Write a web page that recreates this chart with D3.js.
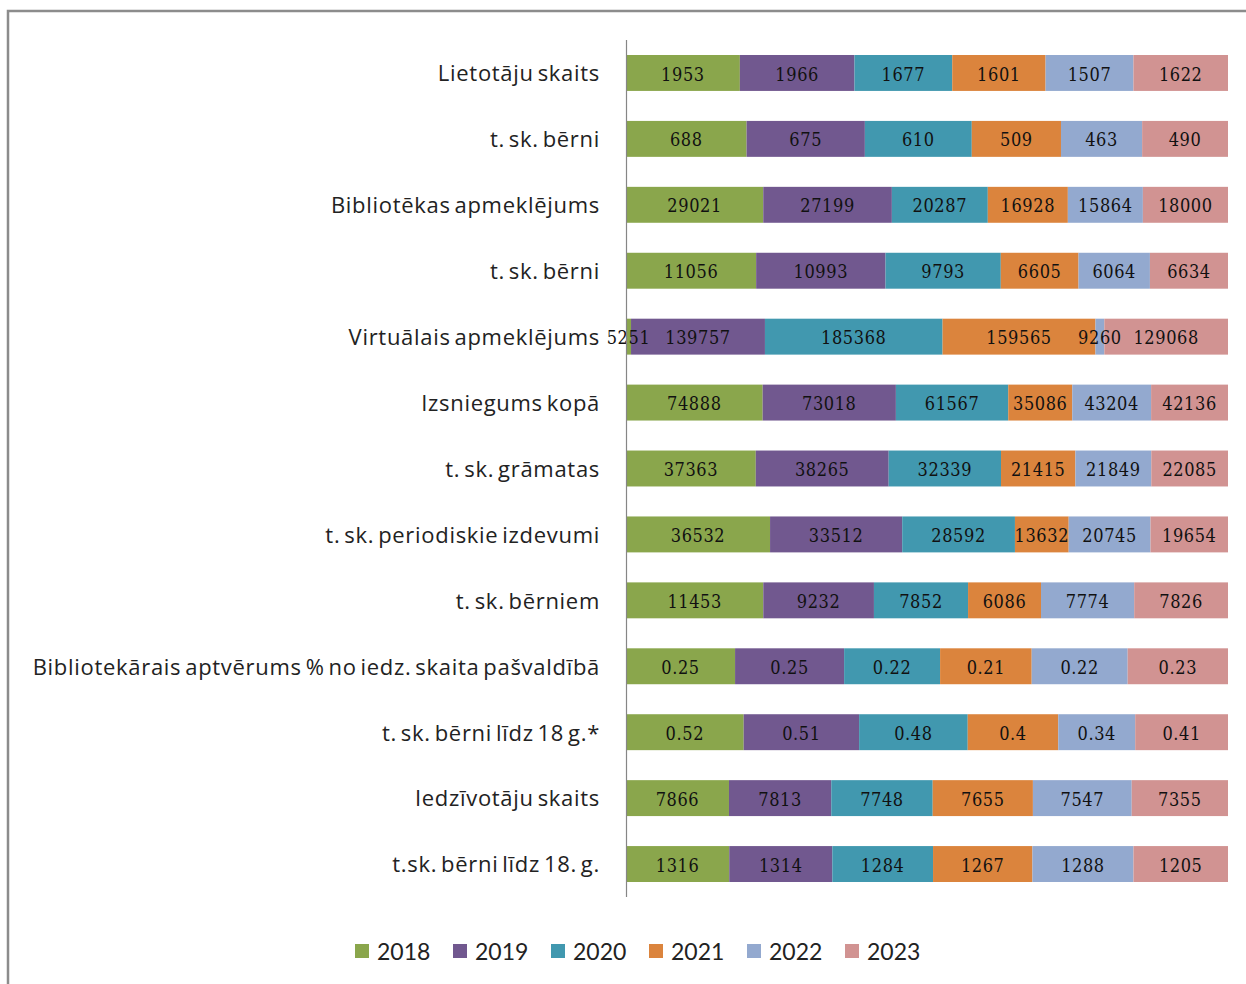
<!DOCTYPE html>
<html>
<head>
<meta charset="utf-8">
<script src="https://cdn.jsdelivr.net/npm/d3@7"></script>
<style>
  body { margin: 0; background: #fff; }
  svg { display: block; }
</style>
</head>
<body>
<svg id="chart"></svg>
<script>
// category rows, top to bottom
var categories = [
  'Lietotāju skaits',
  't. sk. bērni',
  'Bibliotēkas apmeklējums',
  't. sk. bērni',
  'Virtuālais apmeklējums',
  'Izsniegums kopā',
  't. sk. grāmatas',
  't. sk. periodiskie izdevumi',
  't. sk. bērniem',
  'Bibliotekārais aptvērums % no iedz. skaita pašvaldībā',
  't. sk. bērni līdz 18 g.*',
  'Iedzīvotāju skaits',
  't.sk. bērni līdz 18. g.'
];

var years = ['2018', '2019', '2020', '2021', '2022', '2023'];

// one array per year, same order as categories
var v2018 = [1953, 688, 29021, 11056, 5251, 74888, 37363, 36532, 11453, 0.25, 0.52, 7866, 1316];
var v2019 = [1966, 675, 27199, 10993, 139757, 73018, 38265, 33512, 9232, 0.25, 0.51, 7813, 1314];
var v2020 = [1677, 610, 20287, 9793, 185368, 61567, 32339, 28592, 7852, 0.22, 0.48, 7748, 1284];
var v2021 = [1601, 509, 16928, 6605, 159565, 35086, 21415, 13632, 6086, 0.21, 0.4, 7655, 1267];
var v2022 = [1507, 463, 15864, 6064, 9260, 43204, 21849, 20745, 7774, 0.22, 0.34, 7547, 1288];
var v2023 = [1622, 490, 18000, 6634, 129068, 42136, 22085, 19654, 7826, 0.23, 0.41, 7355, 1205];

var colors = ['#8aa64c', '#71588f', '#4198af', '#db843d', '#93a9cf', '#d19392'];

var width = 1246;
var height = 984;

var svg = d3.select('#chart')
  .attr('width', width)
  .attr('height', height);

// outer frame
svg.append('rect')
  .attr('x', 8)
  .attr('y', 11)
  .attr('width', 1260)
  .attr('height', 1000)
  .attr('fill', '#fff')
  .attr('stroke', '#8c8c8c')
  .attr('stroke-width', 2.5);

// build table rows for the stack
var series = [v2018, v2019, v2020, v2021, v2022, v2023];
var table = categories.map(function (c, i) {
  var row = { idx: i, name: c };
  years.forEach(function (y, j) { row[y] = series[j][i]; });
  return row;
});

var stacked = d3.stack()
  .keys(years)
  .offset(d3.stackOffsetExpand)(table);

var x = d3.scaleLinear()
  .domain([0, 1])
  .range([626, 1228]);

var y = d3.scaleBand()
  .domain(d3.range(categories.length))
  .range([40, 897])
  .paddingInner(0.455)
  .paddingOuter(0.2275);

var color = d3.scaleOrdinal()
  .domain(years)
  .range(colors);

var layers = svg.selectAll('g.layer')
  .data(stacked)
  .enter().append('g')
    .attr('class', 'layer')
    .attr('fill', function (d) { return color(d.key); });

layers.selectAll('rect')
  .data(function (d) { return d; })
  .enter().append('rect')
    .attr('x', function (d) { return x(d[0]); })
    .attr('y', function (d) { return y(d.data.idx); })
    .attr('width', function (d) { return x(d[1]) - x(d[0]); })
    .attr('height', y.bandwidth());

// data labels, centred in each segment
stacked.forEach(function (layer) {
  svg.append('g').selectAll('text')
    .data(layer)
    .enter().append('text')
      .attr('x', function (d) { return (x(d[0]) + x(d[1])) / 2; })
      .attr('y', function (d) { return y(d.data.idx) + y.bandwidth() / 2; })
      .attr('dy', '0.42em')
      .attr('text-anchor', 'middle')
      .attr('font-family', '"DejaVu Serif Condensed", "DejaVu Serif", serif')
      .attr('font-size', 18)
      .attr('letter-spacing', 0.6)
      .attr('fill', '#111')
      .text(function (d) { return d.data[layer.key]; });
});

// category axis
var yAxis = d3.axisLeft(y)
  .tickSize(0)
  .tickPadding(26)
  .tickFormat(function (i) { return categories[i]; });

var gy = svg.append('g')
  .attr('transform', 'translate(626,0)')
  .call(yAxis);
gy.select('.domain').remove();
gy.selectAll('text')
  .attr('dy', '0.38em')
  .attr('font-family', '"Open Sans", sans-serif')
  .attr('font-size', 22)
  .attr('letter-spacing', 0.7)
  .attr('word-spacing', -2.5)
  .attr('fill', '#222');

svg.append('line')
  .attr('x1', 626.5).attr('x2', 626.5)
  .attr('y1', 40).attr('y2', 897)
  .attr('stroke', '#868686')
  .attr('stroke-width', 1.2);

// legend
var legend = svg.append('g')
  .selectAll('g')
  .data(years)
  .enter().append('g')
    .attr('transform', function (d, i) { return 'translate(' + (355 + i * 98) + ',951)'; });

legend.append('rect')
  .attr('x', 0)
  .attr('y', -7)
  .attr('width', 14)
  .attr('height', 14)
  .attr('fill', function (d) { return color(d); });

legend.append('text')
  .attr('x', 22)
  .attr('dy', '0.38em')
  .attr('font-family', 'Lato, sans-serif')
  .attr('font-size', 23)
  .attr('fill', '#222')
  .text(function (d) { return d; });
</script>
</body>
</html>
